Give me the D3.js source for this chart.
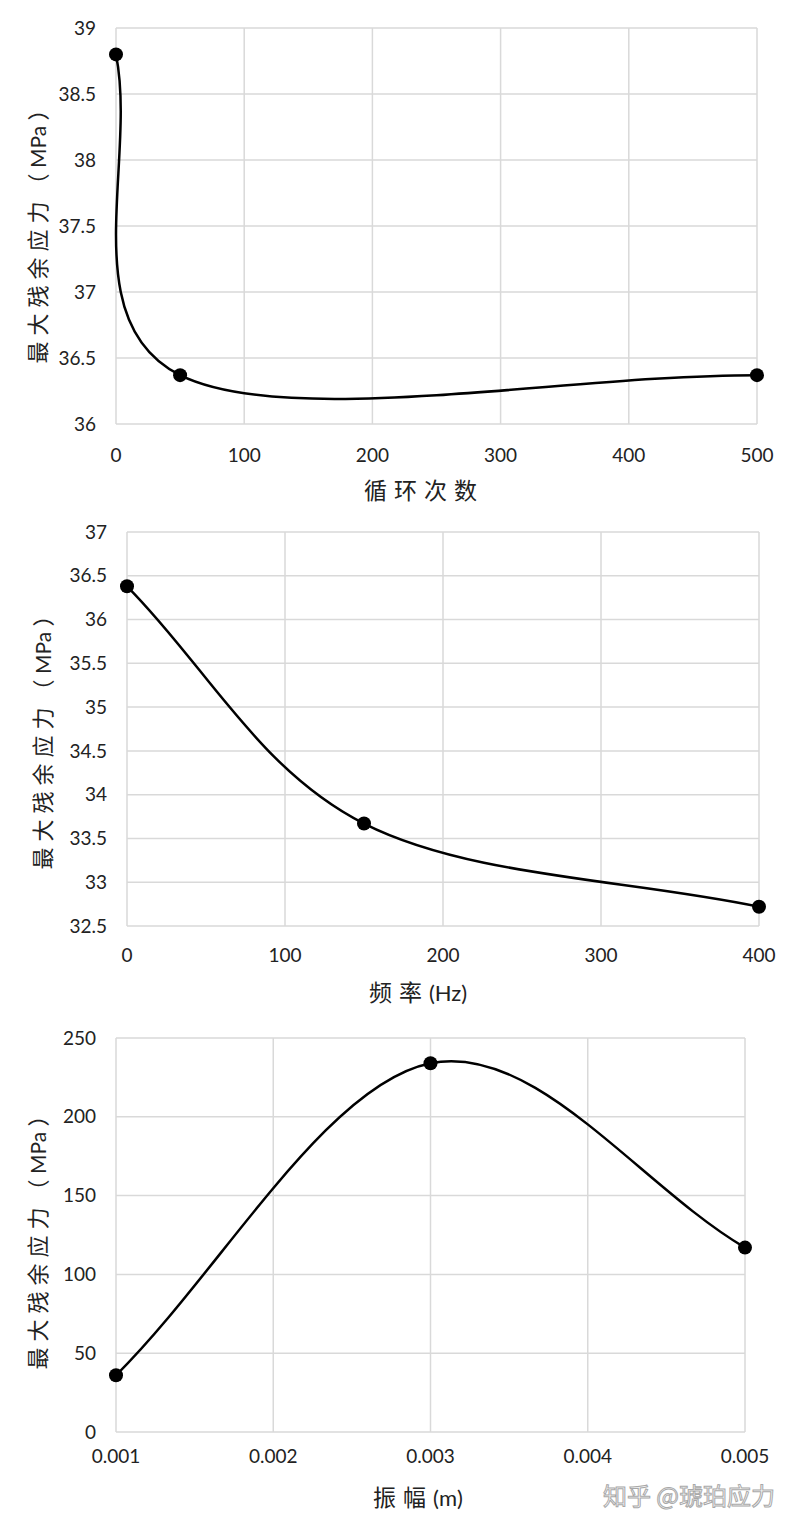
<!DOCTYPE html>
<html>
<head>
<meta charset="utf-8">
<script src="https://cdn.jsdelivr.net/npm/d3@7"></script>
<style>
  body { margin: 0; background: #fff; }
  svg { display: block; }
</style>
</head>
<body>
<svg id="chart" width="794" height="1528"></svg>
<script>
// panel 1: cycle count
const cycles = [0, 50, 500];
const cycleStress = [38.8, 36.37, 36.37];
const cycleTicks = [0, 100, 200, 300, 400, 500];
const cycleStressTicks = [36, 36.5, 37, 37.5, 38, 38.5, 39];

// panel 2: frequency
const freqs = [0, 150, 400];
const freqStress = [36.38, 33.67, 32.72];
const freqTicks = [0, 100, 200, 300, 400];
const freqStressTicks = [32.5, 33, 33.5, 34, 34.5, 35, 35.5, 36, 36.5, 37];

// panel 3: amplitude
const amps = [0.001, 0.003, 0.005];
const ampStress = [36, 234, 117];
const ampTicks = [0.001, 0.002, 0.003, 0.004, 0.005];
const ampStressTicks = [0, 50, 100, 150, 200, 250];

const svg = d3.select("#chart");
const tickFont = "Lato, 'Open Sans', sans-serif";
const cjkFont = "'Noto Sans CJK SC', sans-serif";

// excel-like smoothed scatter line: cardinal 1/6 with reflected end points
function smoothPath(p) {
    const n = p.length;
    const ext = [[2 * p[0][0] - p[1][0], 2 * p[0][1] - p[1][1]], ...p,
                 [2 * p[n - 1][0] - p[n - 2][0], 2 * p[n - 1][1] - p[n - 2][1]]];
    const path = d3.path();
    path.moveTo(p[0][0], p[0][1]);
    for (let i = 1; i < ext.length - 2; i++) {
        const a = ext[i - 1], b = ext[i], c = ext[i + 1], d = ext[i + 2];
        path.bezierCurveTo(
            b[0] + (c[0] - a[0]) / 6, b[1] + (c[1] - a[1]) / 6,
            c[0] - (d[0] - b[0]) / 6, c[1] - (d[1] - b[1]) / 6,
            c[0], c[1]);
    }
    return path.toString();
}

function drawPanel(cfg) {
    const x = d3.scaleLinear().domain(cfg.xDomain).range([cfg.left, cfg.right]);
    const y = d3.scaleLinear().domain(cfg.yDomain).range([cfg.bottom, cfg.top]);
    const g = svg.append("g");

    // grid
    g.selectAll("line.h").data(cfg.yTicks).join("line")
        .attr("x1", cfg.left).attr("x2", cfg.right)
        .attr("y1", d => y(d)).attr("y2", d => y(d))
        .attr("stroke", "#d9d9d9").attr("stroke-width", 1.5);
    g.selectAll("line.v").data(cfg.xTicks).join("line")
        .attr("y1", cfg.top).attr("y2", cfg.bottom)
        .attr("x1", d => x(d)).attr("x2", d => x(d))
        .attr("stroke", "#d9d9d9").attr("stroke-width", 1.5);

    // tick labels
    g.selectAll("text.yt").data(cfg.yTicks).join("text")
        .attr("x", cfg.left - 20).attr("y", d => y(d))
        .attr("dy", "0.35em").attr("text-anchor", "end")
        .style("font-family", tickFont).style("font-size", "19px").style("fill", "#222")
        .text(d => d);
    g.selectAll("text.xt").data(cfg.xTicks).join("text")
        .attr("x", d => x(d)).attr("y", cfg.xLabelY)
        .attr("dy", "0.35em").attr("text-anchor", "middle")
        .style("font-family", tickFont).style("font-size", "19px").style("fill", "#222")
        .text(d => cfg.xFormat ? cfg.xFormat(d) : d);

    // y title
    const yt = g.append("text")
        .attr("transform", `translate(${cfg.yTitleX},${cfg.yTitleY}) rotate(-90)`)
        .attr("text-anchor", "middle").attr("dy", "0.35em")
        .style("font-family", cjkFont).style("font-size", "22px").style("fill", "#222");
    yt.append("tspan").style("letter-spacing", "6px").text("最大残余应力");
    yt.append("tspan").text("（");
    yt.append("tspan").style("font-family", tickFont).style("font-size", "21px").text(" MPa ");
    yt.append("tspan").text("）");

    // x title
    const xt = g.append("text")
        .attr("x", cfg.xTitleX).attr("y", cfg.xTitleY)
        .attr("text-anchor", "middle").attr("dy", "0.35em")
        .style("font-family", cjkFont).style("font-size", "23px").style("fill", "#222");
    xt.append("tspan").style("letter-spacing", "7px").text(cfg.xTitle);
    if (cfg.xUnit) {
        xt.append("tspan").style("font-family", tickFont).style("font-size", "22px")
            .text(cfg.xUnit);
    }

    // smoothed line + markers
    const pts = cfg.xs.map((d, i) => [x(d), y(cfg.ys[i])]);
    g.append("path")
        .attr("d", smoothPath(pts)).attr("fill", "none")
        .attr("stroke", "#000").attr("stroke-width", 2.5);
    g.selectAll("circle").data(cfg.xs.map((d, i) => [d, cfg.ys[i]])).join("circle")
        .attr("cx", d => x(d[0])).attr("cy", d => y(d[1]))
        .attr("r", 7).attr("fill", "#000");
}

drawPanel({
    xs: cycles, ys: cycleStress, xTicks: cycleTicks, yTicks: cycleStressTicks,
    xDomain: [0, 500], yDomain: [36, 39],
    left: 116, right: 757, top: 28, bottom: 424,
    xLabelY: 455, xTitle: "循环次数", xTitleX: 424, xTitleY: 491,
    yTitleX: 38, yTitleY: 231
});

drawPanel({
    xs: freqs, ys: freqStress, xTicks: freqTicks, yTicks: freqStressTicks,
    xDomain: [0, 400], yDomain: [32.5, 37],
    left: 127, right: 759, top: 532, bottom: 926,
    xLabelY: 955, xTitle: "频率", xUnit: "(Hz)", xTitleX: 418, xTitleY: 993,
    yTitleX: 43, yTitleY: 737
});

drawPanel({
    xs: amps, ys: ampStress, xTicks: ampTicks, yTicks: ampStressTicks,
    xDomain: [0.001, 0.005], yDomain: [0, 250],
    left: 116, right: 745, top: 1038, bottom: 1432,
    xLabelY: 1456, xTitle: "振幅", xUnit: "(m)", xTitleX: 418, xTitleY: 1498,
    yTitleX: 38, yTitleY: 1237, xFormat: d3.format(".3f")
});

// watermark
svg.append("text")
    .attr("x", 775).attr("y", 1497).attr("dy", "0.35em")
    .attr("text-anchor", "end")
    .style("font-family", cjkFont).style("font-size", "24px")
    .style("fill", "#fff").style("stroke", "#a8a8a8").style("stroke-width", 1)
    .text("知乎 @琥珀应力");
</script>
</body>
</html>
